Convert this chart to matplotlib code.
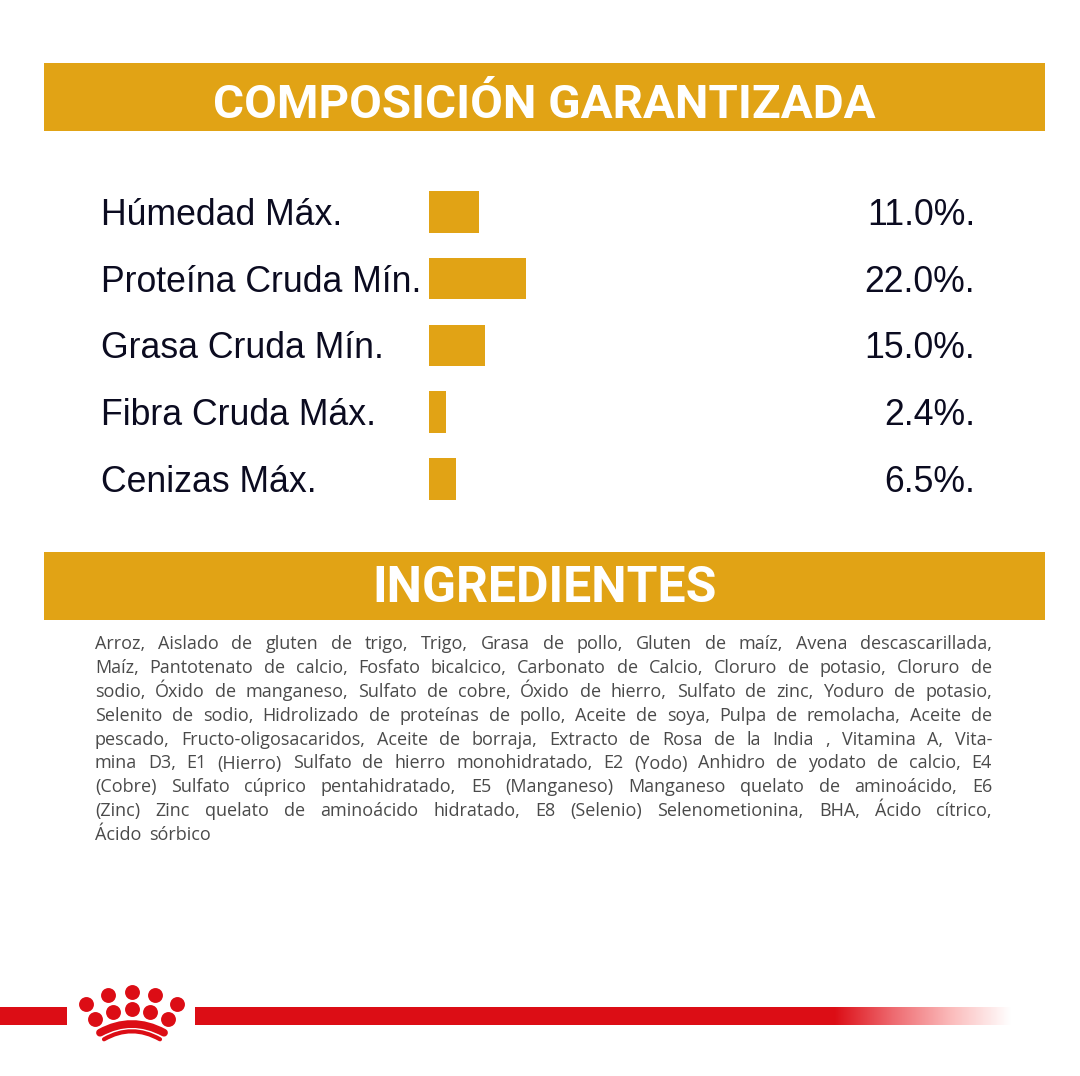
import numpy as np
import matplotlib
matplotlib.use("Agg")
import matplotlib.pyplot as plt
from matplotlib.colors import LinearSegmentedColormap
from matplotlib.patches import PathPatch, Rectangle
from matplotlib.path import Path

# values
labels = ["Húmedad Máx.", "Proteína Cruda Mín.", "Grasa Cruda Mín.", "Fibra Cruda Máx.", "Cenizas Máx."]
value_labels = ["11.0%.", "22.0%.", "15.0%.", "2.4%.", "6.5%."]
bar_lengths = [50, 97, 56, 17, 27]  # the drawn bars are not in proportion to the percentages

ingredient_lines = [
    "Arroz, Aislado de gluten de trigo, Trigo, Grasa de pollo, Gluten de maíz, Avena descascarillada,",
    "Maíz, Pantotenato de calcio, Fosfato bicalcico, Carbonato de Calcio, Cloruro de potasio, Cloruro de",
    "sodio, Óxido de manganeso, Sulfato de cobre, Óxido de hierro, Sulfato de zinc, Yoduro de potasio,",
    "Selenito de sodio, Hidrolizado de proteínas de pollo, Aceite de soya, Pulpa de remolacha, Aceite de",
    "pescado, Fructo-oligosacaridos, Aceite de borraja, Extracto de Rosa de la India , Vitamina A, Vita-",
    "mina D3, E1 (Hierro) Sulfato de hierro monohidratado, E2 (Yodo) Anhidro de yodato de calcio, E4",
    "(Cobre) Sulfato cúprico pentahidratado, E5 (Manganeso) Manganeso quelato de aminoácido, E6",
    "(Zinc) Zinc quelato de aminoácido hidratado, E8 (Selenio) Selenometionina, BHA, Ácido cítrico,",
    "Ácido sórbico",
]

GOLD = "#e1a315"
RED = "#dc0d15"

fig = plt.figure(figsize=(10.8, 10.76), dpi=100)
ax = fig.add_axes([0, 0, 1, 1])
ax.set_xlim(0, 1080)
ax.set_ylim(1076, 0)
ax.axis("off")
renderer = fig.canvas.get_renderer()


def text_width(t):
    return t.get_window_extent(renderer).width


# header bands
for top, base, title, size in [(63, 118, "COMPOSICIÓN GARANTIZADA", 34.2), (552, 602, "INGREDIENTES", 36)]:
    ax.add_patch(Rectangle((44, top), 1001, 68, color=GOLD, lw=0))
    ax.text(544.5, base, title, color="white", fontsize=size, fontweight="bold",
            family="Roboto", ha="center", va="baseline")

# bars with labels
y_pos = 212 + 66.7 * np.arange(len(labels))
ax.barh(y_pos, bar_lengths, left=429, height=41.5, color=GOLD)
for y, lab, val in zip(y_pos, labels, value_labels):
    ax.text(101, y + 13, lab, fontsize=25.7, family="Liberation Sans", color="#0b0b20", va="baseline")
    ax.text(975, y + 13, val, fontsize=25.7, family="Liberation Sans", color="#0b0b20", va="baseline", ha="right")

# ingredients, justified word by word
left, right = 95, 992
for i, line in enumerate(ingredient_lines):
    base = 649 + 23.9 * i
    words = [ax.text(left, base, w, fontsize=13, family="Open Sans", color="#4a4a4a", va="baseline")
             for w in line.split(" ")]
    widths = [text_width(w) for w in words]
    if i < len(ingredient_lines) - 1:
        gap = (right - left - sum(widths)) / (len(words) - 1)
    else:
        gap = 8
    x = left
    for w, wd in zip(words, widths):
        w.set_x(x)
        x += wd + gap

# red rule with fade
ax.add_patch(Rectangle((0, 1007), 67, 18, color=RED, lw=0))
ax.add_patch(Rectangle((195, 1007), 640, 18, color=RED, lw=0))
fade = LinearSegmentedColormap.from_list("fade", [RED, "#ee6a70", "#fbbcbc", "#ffffff"])
ax.imshow(np.linspace(0, 1, 256).reshape(1, -1), extent=(834, 1011, 1025, 1007), cmap=fade, aspect="auto")
ax.set_xlim(0, 1080)
ax.set_ylim(1076, 0)

# crown logo
dots_x = [86.3, 108, 131.7, 155, 176.7, 95.3, 112.7, 131.7, 150.3, 167.7]
dots_y = [1003.7, 994.7, 991.7, 994.7, 1003.7, 1019, 1011.7, 1009, 1011.7, 1019]
ax.scatter(dots_x, dots_y, s=115, color=RED, lw=0, zorder=3)
for start, ctrl, end, lw in [((100, 1032.7), (131.7, 1015.3), (164, 1032.7), 5.6),
                             ((104, 1039.3), (131.7, 1023.3), (160, 1039.3), 3)]:
    curve = Path([start, ctrl, end], [Path.MOVETO, Path.CURVE3, Path.CURVE3])
    ax.add_patch(PathPatch(curve, fill=False, edgecolor=RED, lw=lw, capstyle="round"))

fig.savefig("out.png", dpi=100)
